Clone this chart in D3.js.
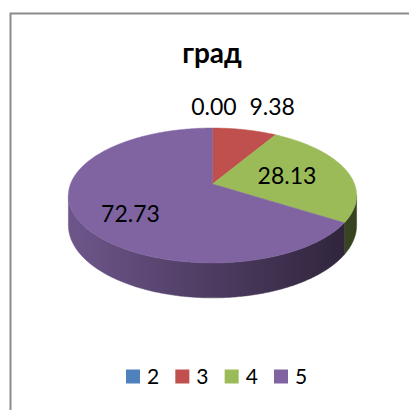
<!DOCTYPE html>
<html>
<head>
<meta charset="utf-8">
<script src="https://cdn.jsdelivr.net/npm/d3@7"></script>
<style>
  html, body { margin: 0; padding: 0; background: #fff; }
  #chart { width: 409px; height: 410px; }
  text { font-family: Lato, "Open Sans", sans-serif; fill: #000; }
</style>
</head>
<body>
<div id="chart"></div>
<script>
// Chart data
const title = "град";
const categories = ["2", "3", "4", "5"];
const values = [0.00, 9.38, 28.13, 72.73];
const labels = ["0.00", "9.38", "28.13", "72.73"];
const colors = ["#4f81bd", "#c0504d", "#9bbb59", "#8064a2"];

function createChart(containerSelector) {
    const width = 409, height = 410;

    const svg = d3.select(containerSelector)
        .append("svg")
        .attr("width", width)
        .attr("height", height);

    // Chart area border (runs off the right and bottom edge)
    svg.append("rect")
        .attr("x", 10.5)
        .attr("y", 13.5)
        .attr("width", 430)
        .attr("height", 430)
        .attr("fill", "#fff")
        .attr("stroke", "#8c8c8c")
        .attr("stroke-width", 2);

    // Title
    svg.append("text")
        .attr("x", 212)
        .attr("y", 63)
        .attr("text-anchor", "middle")
        .attr("font-size", "28px")
        .attr("font-weight", "bold")
        .text(title);

    // 3D projection of the pie disc (perspective tilt)
    const cx = 212.5, cy = 184, A = 65.5, B = 142, k = 0.17, H = 29;
    function proj(phi, r, drop) {
        const u = r * Math.sin(phi), v = -r * Math.cos(phi);
        const w = 1 - k * v;
        return [cx + B * u / w, cy + (A * v + drop) / w];
    }

    // Find silhouette angles (left / right extremes of the rim)
    let phiR = Math.PI / 2, phiL = 3 * Math.PI / 2, maxX = -1e9, minX = 1e9;
    for (let a = 0; a < 2 * Math.PI; a += 0.001) {
        const p = proj(a, 1, 0);
        if (p[0] > maxX) { maxX = p[0]; phiR = a; }
        if (p[0] < minX) { minX = p[0]; phiL = a; }
    }

    const pie = d3.pie()
        .sort(null)
        .value(d => d)
        .startAngle(0)
        .endAngle(2 * Math.PI);
    const arcs = pie(values).map((d, i) => ({ ...d, i }));

    // Side shading gradients
    const defs = svg.append("defs");
    colors.forEach((c, i) => {
        const g = defs.append("linearGradient")
            .attr("id", "side" + i)
            .attr("gradientUnits", "userSpaceOnUse")
            .attr("x1", minX).attr("x2", maxX)
            .attr("y1", 0).attr("y2", 0);
        const base = d3.rgb(c);
        [[0, 0.86], [0.5, 0.6], [1, 0.35]].forEach(([o, f]) => {
            g.append("stop")
                .attr("offset", o)
                .attr("stop-color", d3.rgb(base.r * f, base.g * f, base.b * f));
        });
    });

    function arcPoints(a0, a1, drop) {
        const n = Math.max(2, Math.ceil((a1 - a0) / 0.01));
        return d3.range(n + 1).map(j => proj(a0 + (a1 - a0) * j / n, 1, drop));
    }

    // Side walls (only the visible front part)
    arcs.forEach(d => {
        const a0 = Math.max(d.startAngle, phiR), a1 = Math.min(d.endAngle, phiL);
        if (a1 <= a0) return;
        const pts = arcPoints(a0, a1, 0).concat(arcPoints(a0, a1, H).reverse());
        svg.append("path")
            .attr("d", d3.line()(pts) + "Z")
            .attr("fill", `url(#side${d.i})`)
            .attr("stroke", `url(#side${d.i})`)
            .attr("stroke-width", 0.5);
    });

    // Top faces
    arcs.forEach(d => {
        if (d.endAngle - d.startAngle <= 0) return;
        const pts = [proj(0, 0, 0)].concat(arcPoints(d.startAngle, d.endAngle, 0));
        svg.append("path")
            .attr("d", d3.line()(pts) + "Z")
            .attr("fill", colors[d.i])
            .attr("stroke", colors[d.i])
            .attr("stroke-width", 0.5);
    });

    // Data labels: small slices outside, big ones inside (best-fit nudges)
    const labelNudge = [[1.5, -3.7], [22, -5.7], [-6.5, 9], [-3.5, 18]];
    arcs.forEach(d => {
        const mid = (d.startAngle + d.endAngle) / 2;
        const small = d.value / d3.sum(values) < 0.15;
        const p = proj(mid, small ? 1.2 : 0.6, 0);
        svg.append("text")
            .attr("x", p[0] + labelNudge[d.i][0])
            .attr("y", p[1] + labelNudge[d.i][1])
            .attr("text-anchor", "middle")
            .attr("font-size", "23px")
            .text(labels[d.i]);
    });

    // Legend
    const lx = d3.scalePoint()
        .domain(categories)
        .range([126, 274]);
    const legend = svg.selectAll(".legend")
        .data(categories)
        .enter()
        .append("g")
        .attr("class", "legend")
        .attr("transform", d => `translate(${lx(d)},369.5)`);
    legend.append("rect")
        .attr("width", 14)
        .attr("height", 14)
        .attr("fill", (d, i) => colors[i]);
    legend.append("text")
        .attr("x", 21)
        .attr("y", 14)
        .attr("font-size", "21px")
        .text(d => d);
}

createChart("#chart");
</script>
</body>
</html>
